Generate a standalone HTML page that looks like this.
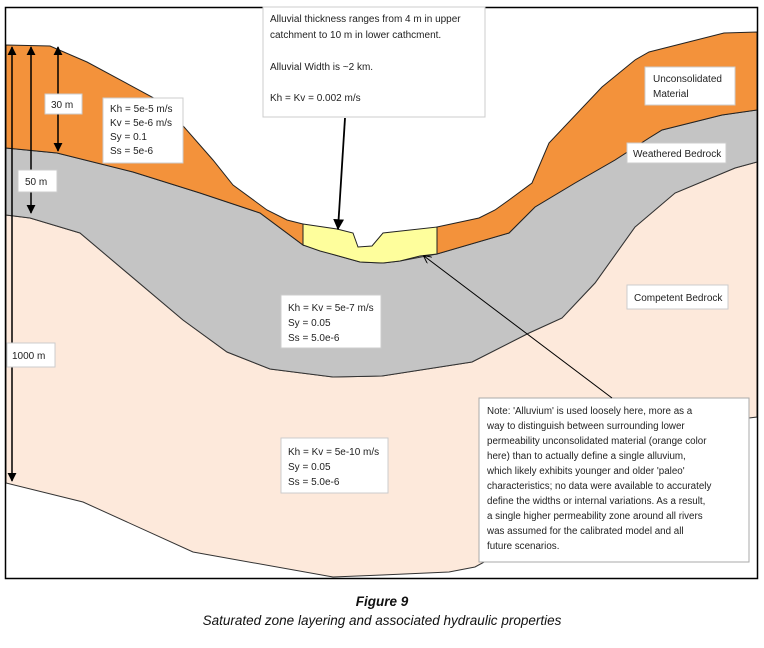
<!DOCTYPE html>
<html><head><meta charset="utf-8"><style>
body{margin:0;background:#fff;width:764px;height:643px;overflow:hidden}
svg text{font-family:"Liberation Sans",sans-serif;font-size:10px;fill:#222}
.cap{font-style:italic;font-size:13.5px;fill:#111}
</style></head><body>
<svg width="764" height="643" viewBox="0 0 764 643">
<defs><marker id="a" viewBox="0 0 10 10" refX="9" refY="5" markerWidth="6" markerHeight="6" orient="auto-start-reverse"><path d="M0,0L10,5L0,10z" fill="#000"/></marker>
<marker id="o" viewBox="0 0 10 10" refX="9" refY="5" markerWidth="8" markerHeight="8" orient="auto"><path d="M0,0L10,5L0,10" fill="none" stroke="#000" stroke-width="1.2"/></marker></defs>
<path d="M6,215 L30,218 L80,233 L183,320 L227,352 L270,369 L333,377 L382,376 L472,362 L529,333 L562,318 L595,283 L635,227 L675,193 L735,168 L757,162 L757,417 L749,418 L475,567 L449,572 L382,575 L333,577 L193,552 L83,502 L6,483 Z" fill="#fde9db" stroke="#333" stroke-width="1"/>
<path d="M6,148 L57,153 L133,172 L200,193 L260,213 L303,245 L335,255 L360,262 L383,263 L400,261 L437,254 L509,233 L535,207 L575,183 L615,160 L649,138 L662,130 L722,115 L757,110 L757,162 L735,168 L675,193 L635,227 L595,283 L562,318 L529,333 L472,362 L382,376 L333,377 L270,369 L227,352 L183,320 L80,233 L30,218 L6,215 Z" fill="#c4c4c4" stroke="#333" stroke-width="1"/>
<path d="M6,45 L50,46 L87,62 L163,103 L213,160 L233,185 L267,210 L287,220 L303,224 L303,245 L260,213 L200,193 L133,172 L57,153 L6,148 Z" fill="#f3923b" stroke="#222" stroke-width="1"/>
<path d="M437,227 L479,218 L495,210 L509,200 L532,183 L549,143 L602,87 L635,60 L649,52 L724,33 L757,32 L757,110 L722,115 L662,130 L649,138 L615,160 L575,183 L535,207 L509,233 L437,254 Z" fill="#f3923b" stroke="#222" stroke-width="1"/>
<path d="M303,224 L337,229 L353,233 L358,247 L372,246 L383,233 L437,227 L437,254 L420,256 L400,261 L383,263 L360,262 L335,255 L320,251 L303,245 Z" fill="#fefe9c" stroke="#222" stroke-width="1"/>
<rect x="5.5" y="7.5" width="752" height="571" fill="none" stroke="#000" stroke-width="1.5"/>
<line x1="12" y1="47" x2="12" y2="481" stroke="#000" stroke-width="1.5" marker-start="url(#a)" marker-end="url(#a)"/>
<line x1="31" y1="47" x2="31" y2="213" stroke="#000" stroke-width="1.5" marker-start="url(#a)" marker-end="url(#a)"/>
<line x1="58" y1="47" x2="58" y2="151" stroke="#000" stroke-width="1.5" marker-start="url(#a)" marker-end="url(#a)"/>
<g fill="#fff" stroke="#ccc" stroke-width="1">
<rect x="45" y="94" width="37" height="20"/>
<rect x="18" y="170" width="39" height="22"/>
<rect x="7" y="343" width="48" height="24"/>
<rect x="103" y="98" width="80" height="65"/>
<rect x="263" y="7" width="222" height="110"/>
<rect x="645" y="67" width="90" height="38"/>
<rect x="627" y="143" width="99" height="20"/>
<rect x="627" y="285" width="101" height="24"/>
<rect x="281" y="295" width="100" height="53"/>
<rect x="281" y="438" width="107" height="55"/>
<rect x="479" y="398" width="270" height="164" stroke="#aaa"/>
</g>
<line x1="345" y1="118" x2="338" y2="229" stroke="#000" stroke-width="1.8" marker-end="url(#a)"/>
<line x1="612" y1="398" x2="424" y2="256" stroke="#000" stroke-width="1" marker-end="url(#o)"/>
<text x="51" y="108">30 m</text>
<text x="25" y="185">50 m</text>
<text x="12" y="359">1000 m</text>
<text x="110" y="112">Kh = 5e-5 m/s</text>
<text x="110" y="126">Kv = 5e-6 m/s</text>
<text x="110" y="140">Sy = 0.1</text>
<text x="110" y="154">Ss = 5e-6</text>
<text x="270" y="22">Alluvial thickness ranges from  4 m in upper</text>
<text x="270" y="38">catchment to 10 m in lower cathcment.</text>
<text x="270" y="70">Alluvial Width is ~2 km.</text>
<text x="270" y="101">Kh = Kv = 0.002 m/s</text>
<text x="653" y="82">Unconsolidated</text>
<text x="653" y="97">Material</text>
<text x="633" y="157">Weathered Bedrock</text>
<text x="634" y="301">Competent Bedrock</text>
<text x="288" y="311">Kh = Kv = 5e-7 m/s</text>
<text x="288" y="326">Sy = 0.05</text>
<text x="288" y="341">Ss = 5.0e-6</text>
<text x="288" y="455">Kh = Kv = 5e-10 m/s</text>
<text x="288" y="470">Sy = 0.05</text>
<text x="288" y="485">Ss = 5.0e-6</text>
<g style="font-size:9.8px">
<text x="487" y="414" style="font-size:9.8px">Note:  'Alluvium' is used loosely here, more as a</text>
<text x="487" y="429" style="font-size:9.8px">way to distinguish between surrounding lower</text>
<text x="487" y="444" style="font-size:9.8px">permeability unconsolidated material (orange color</text>
<text x="487" y="459" style="font-size:9.8px">here) than to actually define a single alluvium,</text>
<text x="487" y="474" style="font-size:9.8px">which likely exhibits younger and older 'paleo'</text>
<text x="487" y="489" style="font-size:9.8px">characteristics; no data were available to accurately</text>
<text x="487" y="504" style="font-size:9.8px">define the widths or internal variations.  As a result,</text>
<text x="487" y="519" style="font-size:9.8px">a single higher permeability zone around all rivers</text>
<text x="487" y="534" style="font-size:9.8px">was assumed for the calibrated model and all</text>
<text x="487" y="549" style="font-size:9.8px">future scenarios.</text>
</g>
<text class="cap" x="382" y="606" text-anchor="middle" font-weight="bold">Figure 9</text>
<text class="cap" x="382" y="625" text-anchor="middle">Saturated zone layering and associated hydraulic properties</text>
</svg>
</body></html>
